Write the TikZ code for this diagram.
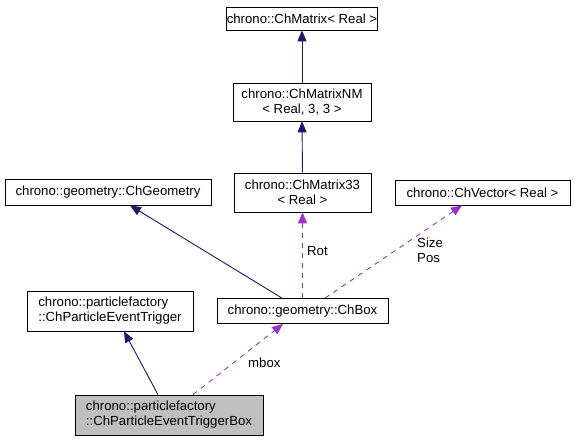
\documentclass[tikz,border=0pt]{standalone}
\usepackage{fontspec}
\setmainfont{Liberation Sans}
\usetikzlibrary{arrows.meta}
\definecolor{navyedge}{HTML}{191970}
\definecolor{orchidedge}{HTML}{9A32CD}
\definecolor{curgray}{HTML}{BFBFBF}
\begin{document}
\begin{tikzpicture}[x=1pt,y=-1pt,
 cls/.style={draw=black, line width=0.8pt, fill=white, inner sep=0pt, font=\fontsize{13.2}{15}\selectfont, align=center},
 clsl/.style={cls, align=left},
 inh/.style={draw=navyedge, line width=0.9pt, -{Triangle[length=11pt,width=9pt,fill=navyedge]}},
 usage/.style={draw=orchidedge, line width=0.9pt, dash pattern=on 5pt off 5pt, -{Triangle[length=11pt,width=9pt,fill=orchidedge]}},
 lbl/.style={font=\fontsize{13.2}{15}\selectfont, inner sep=0pt, anchor=west, align=left}]
\useasboundingbox (0,0) rectangle (575,441);

\node[cls, minimum width=138pt, minimum height=23pt] (mat) at (302,18.5) {chrono::ChMatrix< Real >};
\node[cls, minimum width=138pt, minimum height=38pt] (matnm) at (302,102) {chrono::ChMatrixNM\\< Real, 3, 3 >};
\node[cls, minimum width=137pt, minimum height=39pt] (mat33) at (302.5,192.5) {chrono::ChMatrix33\\< Real >};
\node[cls, minimum width=175pt, minimum height=25pt] (vec) at (482.5,192.5) {chrono::ChVector< Real >};
\node[cls, minimum width=206pt, minimum height=26pt] (geom) at (108,192) {chrono::geometry::ChGeometry};
\node[cls, minimum width=171pt, minimum height=25pt] (box) at (302.5,311) {chrono::geometry::ChBox};
\node[clsl, minimum width=166pt, minimum height=40pt] (trig) at (110,311) {chrono::particlefactory\\::ChParticleEventTrigger};
\node[clsl, fill=curgray, minimum width=188pt, minimum height=40pt] (trigbox) at (169,415) {chrono::particlefactory\\::ChParticleEventTriggerBox};

\draw[inh] (matnm.north) -- (mat.south);
\draw[inh] (mat33.north) -- (matnm.south);
\draw[inh] ([xshift=-20.5pt]box.north) -- ([xshift=22pt]geom.south);
\draw[inh] ([xshift=-11pt]trigbox.north) -- ([xshift=14pt]trig.south);

\draw[usage] ([xshift=24pt]trigbox.north) -- ([xshift=-19.5pt]box.south);
\draw[usage] (box.north) -- (mat33.south);
\draw[usage] ([xshift=22.5pt]box.north) -- ([xshift=-20.5pt]vec.south);

\node[lbl] (lmbox) at (248,363) {mbox};
\node[lbl] (lrot) at (307,251) {Rot};
\node[lbl] (lsize) at (417,250.5) {Size\\Pos};
\end{tikzpicture}
\end{document}
